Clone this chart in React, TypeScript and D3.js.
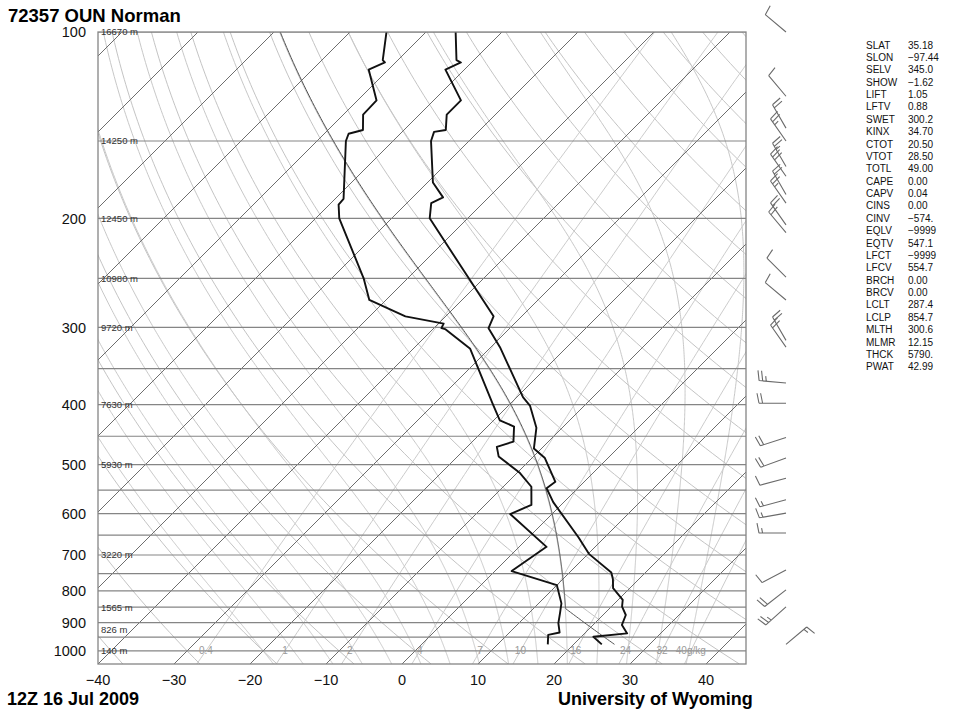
import React from 'react';
import * as d3 from 'd3';

// ---------------- data ----------------
const STATION_TITLE = '72357 OUN Norman';
const TIME_TITLE = '12Z 16 Jul 2009';
const SOURCE_TITLE = 'University of Wyoming';

const TEMP_P = [976, 949, 937, 908, 875, 848, 827, 792, 766, 747, 697, 656, 575, 546, 533, 488, 471, 436, 402, 389, 323, 301, 288, 200, 189, 185, 175, 150, 145, 144, 136, 129, 115, 112, 111, 100];
const TEMP_C = [23.7, 21.6, 25.6, 23.8, 23.0, 21.4, 20.6, 17.8, 16.6, 15.5, 10.1, 6.6, -1.4, -4.1, -3.8, -8.3, -11.0, -13.4, -17.1, -19.2, -28.8, -32.8, -33.7, -55.0, -56.8, -56.0, -59.3, -65.0, -65.8, -64.5, -66.4, -66.4, -72.5, -71.4, -72.3, -76.1];

const DEW_P = [976, 942, 934, 902, 869, 838, 783, 743, 679, 601, 581, 543, 516, 485, 468, 459, 434, 424, 398, 325, 302, 301, 296, 288, 271, 250, 200, 190, 186, 150, 146, 144, 136, 129, 115, 112, 111, 100];
const DEW_C = [16.6, 15.4, 16.6, 15.2, 14.1, 13.0, 10.0, 2.2, 3.6, -5.5, -3.9, -6.3, -9.6, -14.6, -16.1, -14.6, -16.5, -19.2, -22.4, -32.5, -38.4, -39.0, -39.3, -45.3, -52.2, -55.8, -66.9, -68.8, -68.9, -76.2, -76.8, -75.4, -77.4, -77.5, -82.6, -81.4, -82.0, -85.2];

const WIND_P = [100, 127, 143, 150, 165, 171, 183, 189, 205, 211, 249, 271, 315, 323, 369, 398, 452, 488, 526, 570, 599, 645, 740, 797, 849, 976];
const WIND_DIR = [310, 320, 330, 325, 330, 325, 330, 325, 325, 320, 315, 310, 330, 325, 275, 270, 252, 250, 255, 255, 260, 270, 242, 232, 228, 50];
const WIND_KT = [10, 10, 20, 25, 25, 30, 20, 25, 20, 20, 10, 10, 20, 20, 25, 20, 20, 20, 10, 15, 15, 15, 10, 20, 25, 15];

const PRESSURE_TICKS = [100, 200, 300, 400, 500, 600, 700, 800, 900, 1000];
const ISOBARS = [100, 150, 200, 250, 300, 350, 400, 450, 500, 550, 600, 650, 700, 750, 800, 850, 900, 950, 1000];
const TEMP_TICKS = [-40, -30, -20, -10, 0, 10, 20, 30, 40];
const HEIGHT_P = [100, 150, 200, 250, 300, 400, 500, 700, 850, 925, 1000];
const HEIGHT_LABELS = ['16670 m', '14250 m', '12450 m', '10980 m', '9720 m', '7630 m', '5930 m', '3220 m', '1565 m', '826 m', '140 m'];
const MIX_RATIOS = [0.4, 1, 2, 4, 7, 10, 16, 24, 32, 40];
const MIX_LABELS = ['0.4', '1', '2', '4', '7', '10', '16', '24', '32', '40g/kg'];
const ISOTHERMS = [-160, -150, -140, -130, -120, -110, -100, -90, -80, -70, -60, -50, -40, -30, -20, -10, 0, 10, 20, 30, 40];
const DRY_THETA = [-50, -40, -30, -20, -10, 0, 10, 20, 30, 40, 50, 60, 70, 80, 90, 100, 110, 120, 130, 140, 150, 160, 170, 180, 190];
const MOIST_T1000 = [-20, -16, -12, -8, -4, 0, 4, 8, 12, 16, 20, 24, 28, 32, 36];

const PARCEL_SFC_P = 976;
const PARCEL_THETA_K = 300.6;
const PARCEL_LCL_P = 854.7;
const PARCEL_LCL_K = 287.4;

const INDEX_NAMES = ['SLAT', 'SLON', 'SELV', 'SHOW', 'LIFT', 'LFTV', 'SWET', 'KINX', 'CTOT', 'VTOT', 'TOTL', 'CAPE', 'CAPV', 'CINS', 'CINV', 'EQLV', 'EQTV', 'LFCT', 'LFCV', 'BRCH', 'BRCV', 'LCLT', 'LCLP', 'MLTH', 'MLMR', 'THCK', 'PWAT'];
const INDEX_VALUES = ['35.18', '\u221297.44', '345.0', '\u22121.62', '1.05', '0.88', '300.2', '34.70', '20.50', '28.50', '49.00', '0.00', '0.04', '0.00', '\u2212574.', '\u22129999', '547.1', '\u22129999', '554.7', '0.00', '0.00', '287.4', '854.7', '300.6', '12.15', '5790.', '42.99'];

// ---------------- geometry ----------------
const X0 = 98, X1 = 746, Y0 = 32, Y1 = 664;
const PX_PER_C = 7.6;
const FONT = '"Liberation Sans", Arial, Helvetica, sans-serif';

const yScale = d3.scaleLog().domain([100, 1050]).range([Y0, Y1]);
const xScale = d3.scaleLinear().domain([-40, -40 + (X1 - X0) / PX_PER_C]).range([X0, X1]);
const skewX = (tc: number, p: number) => xScale(tc) + (Y1 - yScale(p));

// ---------------- thermodynamics ----------------
const es = (tc: number) => 6.112 * Math.exp((17.67 * tc) / (tc + 243.5));
const dewFromE = (e: number) => {
  const a = Math.log(e / 6.112);
  return (243.5 * a) / (17.67 - a);
};
function moistLapse(p: number, tk: number) {
  const Rd = 287.04, cp = 1005.7, Lv = 2.501e6, eps = 0.622;
  const tc = tk - 273.15;
  const e = es(tc);
  const r = (eps * e) / (p - e);
  return (Rd * tk + Lv * r) / (p * (cp + (Lv * Lv * r * eps) / (Rd * tk * tk)));
}
function integrateMoist(p0: number, tk0: number, p1: number): [number, number][] {
  const n = Math.max(1, Math.ceil(Math.abs(p1 - p0) / 2));
  const h = (p1 - p0) / n;
  let p = p0, t = tk0;
  const out: [number, number][] = [[p, t - 273.15]];
  for (let i = 0; i < n; i++) {
    const k1 = moistLapse(p, t);
    const k2 = moistLapse(p + h / 2, t + (h / 2) * k1);
    const k3 = moistLapse(p + h / 2, t + (h / 2) * k2);
    const k4 = moistLapse(p + h, t + h * k3);
    t += (h / 6) * (k1 + 2 * k2 + 2 * k3 + k4);
    p += h;
    out.push([p, t - 273.15]);
  }
  return out;
}
const pLevels = (top: number, bot: number, n = 120) => d3.range(n + 1).map((i) => bot * Math.pow(top / bot, i / n));

const lineGen = d3
  .line<[number, number]>()
  .x((d) => skewX(d[1], d[0]))
  .y((d) => yScale(d[0]));

function dryPath(thetaC: number) {
  const th = thetaC + 273.15;
  return lineGen(pLevels(100, 1050).map((p) => [p, th * Math.pow(p / 1000, 0.2857) - 273.15] as [number, number]));
}
function mixPath(w: number) {
  return lineGen(pLevels(100, 1050).map((p) => [p, dewFromE((w * p) / (622 + w))] as [number, number]));
}
function moistPath(t1000: number) {
  const up = integrateMoist(1000, t1000 + 273.15, 100);
  const down = integrateMoist(1000, t1000 + 273.15, 1050).reverse();
  return lineGen([...down, ...up.slice(1)]);
}
function parcelPath() {
  const dry = pLevels(PARCEL_LCL_P, PARCEL_SFC_P, 30).map((p) => [p, PARCEL_THETA_K * Math.pow(p / 1000, 0.2857) - 273.15] as [number, number]);
  const moist = integrateMoist(PARCEL_LCL_P, PARCEL_LCL_K, 100);
  return lineGen([...dry, ...moist.slice(1)]);
}

// ---------------- wind barb ----------------
function Barb({ p, dir, kt }: { p: number; dir: number; kt: number }) {
  const bx = 786, by = yScale(p);
  const L = 27, BL = 10, SP = 3.6;
  const r = (dir * Math.PI) / 180;
  const ux = Math.sin(r), uy = -Math.cos(r);
  const px = -uy, py = ux;
  const tipX = bx + ux * L, tipY = by + uy * L;
  const lean = 0.2;
  const segs: string[] = [`M${bx},${by}L${tipX},${tipY}`];
  let rem = Math.round(kt / 5) * 5;
  let pos = 0;
  const pennants = Math.floor(rem / 50);
  rem -= pennants * 50;
  for (let i = 0; i < pennants; i++) {
    const sx = tipX - ux * pos, sy = tipY - uy * pos;
    const ex = sx + px * BL, ey = sy + py * BL;
    const s2x = tipX - ux * (pos + SP * 1.5), s2y = tipY - uy * (pos + SP * 1.5);
    segs.push(`M${sx},${sy}L${ex},${ey}L${s2x},${s2y}Z`);
    pos += SP * 2;
  }
  const full = Math.floor(rem / 10);
  const half = rem % 10 >= 5;
  if (full === 0 && half && pennants === 0) pos = SP;
  for (let i = 0; i < full; i++) {
    const sx = tipX - ux * pos, sy = tipY - uy * pos;
    segs.push(`M${sx},${sy}L${sx + (px + ux * lean) * BL},${sy + (py + uy * lean) * BL}`);
    pos += SP;
  }
  if (half) {
    const sx = tipX - ux * pos, sy = tipY - uy * pos;
    segs.push(`M${sx},${sy}L${sx + (px + ux * lean) * BL * 0.5},${sy + (py + uy * lean) * BL * 0.5}`);
  }
  return <path d={segs.join('')} fill="none" stroke="#6a6a6a" strokeWidth={1.1} />;
}

export default function App() {
  const tempData = TEMP_P.map((p, i) => [p, TEMP_C[i]] as [number, number]);
  const dewData = DEW_P.map((p, i) => [p, DEW_C[i]] as [number, number]);
  return (
    <svg width={960} height={720} style={{ position: 'absolute', left: 0, top: 0, background: '#fff' }} fontFamily={FONT}>
      <defs>
        <clipPath id="plot">
          <rect x={X0} y={Y0} width={X1 - X0} height={Y1 - Y0} />
        </clipPath>
      </defs>
      <rect x={0} y={0} width={960} height={720} fill="#fff" />
      <g clipPath="url(#plot)" fill="none">
        {DRY_THETA.map((t) => (
          <path key={'d' + t} d={dryPath(t) || ''} stroke="#c4c4c4" strokeWidth={1} />
        ))}
        {MOIST_T1000.map((t) => (
          <path key={'m' + t} d={moistPath(t) || ''} stroke="#c8c8c8" strokeWidth={1} />
        ))}
        {MIX_RATIOS.map((w) => (
          <path key={'w' + w} d={mixPath(w) || ''} stroke="#cccccc" strokeWidth={1} />
        ))}
        {ISOTHERMS.map((t) => (
          <line key={'t' + t} x1={skewX(t, 1050)} y1={Y1} x2={skewX(t, 100)} y2={Y0} stroke="#6e6e6e" strokeWidth={1} />
        ))}
        {ISOBARS.map((p) => (
          <line key={'p' + p} x1={X0} x2={X1} y1={yScale(p)} y2={yScale(p)} stroke="#858585" strokeWidth={1.2} />
        ))}
        <path d={parcelPath() || ''} stroke="#555" strokeWidth={1} />
        <path d={lineGen(tempData) || ''} stroke="#111" strokeWidth={1.9} strokeLinejoin="round" />
        <path d={lineGen(dewData) || ''} stroke="#111" strokeWidth={1.9} strokeLinejoin="round" />
      </g>
      <rect x={X0} y={Y0} width={X1 - X0} height={Y1 - Y0} fill="none" stroke="#858585" strokeWidth={1.3} />
      {HEIGHT_P.map((p, i) => (
        <text key={'h' + p} x={X0 + 3} y={yScale(p)} dy="0.35em" fontSize={9.5} fill="#333">
          {HEIGHT_LABELS[i]}
        </text>
      ))}
      {MIX_RATIOS.map((w, i) => (
        <text key={'wl' + w} x={skewX(dewFromE((w * 1000) / (622 + w)), 1000)} y={yScale(1000)} dy="0.35em" fontSize={10} fill="#9a9a9a" textAnchor="middle">
          {MIX_LABELS[i]}
        </text>
      ))}
      {PRESSURE_TICKS.map((p) => (
        <text key={'pl' + p} x={86} y={yScale(p)} dy="0.36em" fontSize={14.5} textAnchor="end" fill="#111">
          {p}
        </text>
      ))}
      {TEMP_TICKS.map((t) => (
        <text key={'tl' + t} x={xScale(t)} y={685} fontSize={14.5} textAnchor="middle" fill="#111">
          {t < 0 ? '\u2212' + Math.abs(t) : String(t)}
        </text>
      ))}
      {WIND_P.map((p, i) => (
        <Barb key={'b' + i} p={p} dir={WIND_DIR[i]} kt={WIND_KT[i]} />
      ))}
      {INDEX_NAMES.map((n, i) => (
        <g key={'ix' + n} fontSize={10} fill="#111">
          <text x={866} y={45 + i * 12.38} dy="0.35em">{n}</text>
          <text x={908} y={45 + i * 12.38} dy="0.35em">{INDEX_VALUES[i]}</text>
        </g>
      ))}
      <text x={8} y={22} fontSize={18.5} fontWeight="bold" fill="#000">{STATION_TITLE}</text>
      <text x={7} y={705} fontSize={18} fontWeight="bold" fill="#000">{TIME_TITLE}</text>
      <text x={558} y={705} fontSize={18} fontWeight="bold" fill="#000">{SOURCE_TITLE}</text>
    </svg>
  );
}
